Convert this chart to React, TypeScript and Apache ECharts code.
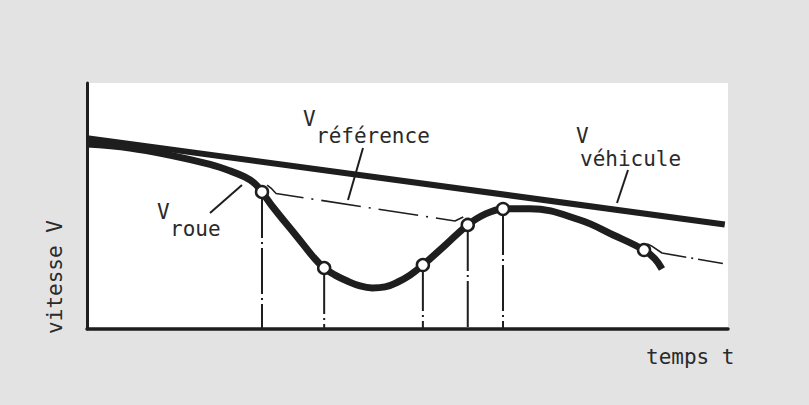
import React, { useEffect, useRef } from "react";
import * as echarts from "echarts";

// time (0-100) / speed (0-100) in arbitrary units
const vehicleT = [0, 99.5];
const vehicleV = [77.6, 42.5];

const roueT = [0, 6.7, 12.9, 19.2, 22.3, 24.6, 26.1, 27.3, 29.0, 32.8, 35.3, 37.0, 38.7, 40.6, 42.6, 44.5, 46.5, 48.5, 50.4, 52.4, 55.9, 59.4, 62.1, 64.9, 69.1, 76.9, 82.1, 86.9, 88.6, 89.7];
const roueV = [75.2, 73.6, 70.7, 66.9, 64.3, 61.8, 59.3, 55.7, 49.6, 37.4, 29.3, 24.8, 21.9, 19.5, 17.5, 16.7, 17.1, 19.1, 21.9, 26.0, 34.1, 42.3, 46.7, 48.8, 48.9, 44.3, 38.2, 32.1, 28.5, 24.4];

const circleT = [27.3, 37.0, 52.4, 59.4, 64.9, 86.9];
const circleV = [55.7, 24.8, 26.0, 42.3, 48.8, 32.1];
// circles that have a vertical drop line to the time axis
const dropIdx = [0, 1, 2, 3, 4];

const ref1T = [28.1, 28.7, 29.5, 57.4, 58.7];
const ref1V = [58.5, 57.3, 55.1, 43.9, 45.5];
const ref2T = [87.4, 88.0, 89.7, 99.2];
const ref2V = [34.6, 33.9, 30.9, 26.6];

const labels = {
  ref: "référence",
  veh: "véhicule",
  roue: "roue",
  v: "V",
  yName: "vitesse V",
  xName: "temps t",
};

const INK = "#1e1e1e";
const FONT = "'DejaVu Sans Mono', 'Liberation Mono', monospace";

export default function App() {
  const ref = useRef<HTMLDivElement>(null);
  useEffect(() => {
    if (!ref.current) return;
    const chart = echarts.init(ref.current, null, { renderer: "svg" });
    const zip = (a: number[], b: number[]) => a.map((x, i) => [x, b[i]]);
    const txt = (text: string, x: number, y: number, extra: any = {}) => ({
      type: "text",
      x,
      y,
      ...extra,
      style: {
        text,
        fill: "#2a2a2a",
        font: `${extra.size || 21}px ${FONT}`,
        align: extra.align || "left",
        verticalAlign: "middle",
      },
    });
    const leader = (x1: number, y1: number, x2: number, y2: number) => ({
      type: "line",
      shape: { x1, y1, x2, y2 },
      style: { stroke: INK, lineWidth: 2 },
    });
    const dropSeries = dropIdx.map((i) => ({
      type: "line",
      data: [
        [circleT[i], circleV[i]],
        [circleT[i], 0],
      ],
      symbol: "none",
      z: 2,
      lineStyle: { color: INK, width: 2, type: [46, 4, 2, 4] },
    }));
    chart.setOption({
      animation: false,
      backgroundColor: "#e3e3e3",
      grid: {
        left: 87,
        top: 83,
        width: 641,
        height: 246,
        show: true,
        backgroundColor: "#ffffff",
        borderWidth: 0,
      },
      xAxis: {
        type: "value",
        min: 0,
        max: 100,
        axisLine: { show: true, lineStyle: { color: INK, width: 3.5 } },
        axisTick: { show: false },
        axisLabel: { show: false },
        splitLine: { show: false },
      },
      yAxis: {
        type: "value",
        min: 0,
        max: 100,
        axisLine: { show: true, lineStyle: { color: INK, width: 3 } },
        axisTick: { show: false },
        axisLabel: { show: false },
        splitLine: { show: false },
      },
      series: [
        ...dropSeries,
        {
          type: "line",
          data: zip(ref1T, ref1V),
          symbol: "none",
          z: 2,
          lineStyle: { color: INK, width: 1.6, type: [40, 8, 2, 8] },
        },
        {
          type: "line",
          data: zip(ref2T, ref2V),
          symbol: "none",
          z: 2,
          lineStyle: { color: INK, width: 1.6, type: [42, 5, 2, 5] },
        },
        {
          type: "line",
          data: zip(vehicleT, vehicleV),
          symbol: "none",
          z: 3,
          lineStyle: { color: INK, width: 6 },
        },
        {
          type: "line",
          data: zip(roueT, roueV),
          symbol: "none",
          smooth: 0.4,
          z: 3,
          lineStyle: { color: INK, width: 7 },
        },
        {
          type: "scatter",
          data: zip(circleT, circleV),
          symbol: "circle",
          symbolSize: 12,
          z: 5,
          itemStyle: {
            color: "#ffffff",
            opacity: 1,
            borderColor: INK,
            borderWidth: 2.5,
          },
        },
      ],
      graphic: [
        txt(labels.v, 303, 119),
        txt(labels.ref, 316, 136),
        txt(labels.v, 576, 136),
        txt(labels.veh, 580, 158.5),
        txt(labels.v, 157, 212),
        txt(labels.roue, 170, 228.5),
        txt(labels.xName, 646, 357),
        txt(labels.yName, 55, 277, { rotation: Math.PI / 2, align: "center" }),
        leader(242, 185, 210, 213),
        leader(363, 148, 348, 200),
        leader(628, 170, 617, 203),
      ],
    });
    return () => chart.dispose();
  }, []);
  return (
    <div
      ref={ref}
      style={{ position: "fixed", left: 0, top: 0, width: 809, height: 405 }}
    />
  );
}
